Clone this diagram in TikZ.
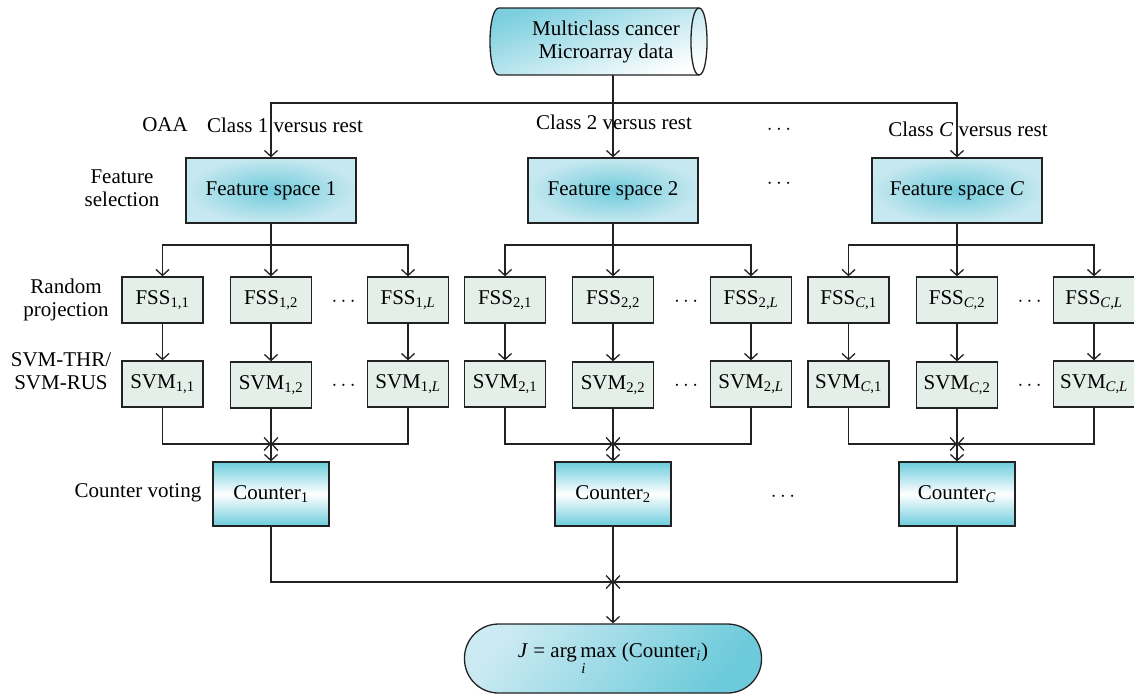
\documentclass[tikz,border=0pt]{standalone}
\usepackage{fontspec}
\setmainfont{Liberation Serif}
\usetikzlibrary{arrows.meta}
\definecolor{linec}{HTML}{222222}
\definecolor{fsin}{HTML}{70CBDB}
\definecolor{fsout}{HTML}{C6E8F0}
\definecolor{ctc}{HTML}{6CCCDC}
\definecolor{ssfill}{HTML}{E3EFE8}
\definecolor{tlight}{HTML}{CBEAF2}
\definecolor{tdark}{HTML}{6CCADA}
\definecolor{cyl}{HTML}{7DCFDF}
\begin{document}
\begin{tikzpicture}[x=1pt,y=-1pt,
  every node/.style={font=\fontsize{21}{23}\selectfont, text=black},
  conn/.style={draw=linec, line width=1.3pt},
  arr/.style={conn, -{Straight Barb[length=6pt,width=13pt]}},
  fsbox/.style={draw=linec, line width=1.3pt, minimum width=170pt, minimum height=65pt, inner color=fsin, outer color=fsout},
  ssbox/.style={draw=linec, line width=1.3pt, fill=ssfill, minimum width=81pt, minimum height=46pt, inner sep=0pt},
  ctbox/.style={draw=linec, line width=1.3pt, minimum width=116pt, minimum height=64pt, top color=ctc, bottom color=ctc, middle color=white},
  lbl/.style={align=center, inner sep=0pt},
  dotsl/.style={inner sep=0pt}
]
\useasboundingbox (0,0) rectangle (1134,694);
% cylinder
\path[shade, top color=cyl, bottom color=white, shading angle=20, draw=linec, line width=1.3pt]
  (499,8) -- (699,8) .. controls (709.7,8) and (709.7,75) .. (699,75) -- (499,75)
  .. controls (487,75) and (487,8) .. (499,8) -- cycle;
\draw[conn] (699,8) .. controls (688.3,8) and (688.3,75) .. (699,75);
\node[lbl, minimum height=67pt] (data) at (606,41.5) {Multiclass cancer\\Microarray data};

% feature spaces
\node[fsbox] (fs1) at (271,190.5) {Feature space 1};
\node[fsbox] (fs2) at (613,190.5) {Feature space 2};
\node[fsbox] (fsC) at (957,190.5) {Feature space \textit{C}};

\coordinate (top) at (613,103);
\draw[arr] (data.south -| fs2.north) -- (fs2.north);
\draw[arr] (top) -| (fs1.north);
\draw[arr] (top) -| (fsC.north);

% labels
\node[lbl] (oaa) at (165,125) {OAA};
\node[lbl] (c1) at (285,125) {Class 1 versus rest};
\node[lbl] (c2) at (614,122) {Class 2 versus rest};
\node[lbl] (cC) at (968,129) {Class \textit{C} versus rest};
\node[dotsl] (d1) at (779,130) {$\cdots$};
\node[dotsl] (d2) at (779,184) {$\cdots$};
\node[lbl] (lfs) at (122,188) {Feature\\selection};
\node[lbl] (lrp) at (66,300) {Random\\projection};
\node[lbl] (lsvm) at (61,371) {SVM-THR/\\SVM-RUS};
\node[lbl] (lcv) at (138,493) {Counter voting};

% groups
\foreach \g/\gs/\a/\b/\c in {1/1/162.5/271/408, 2/2/505/613/751, C/{\textit{C}}/848.5/957/1094}{
  \node[ssbox] (f\g a) at (\a,300) {FSS\textsubscript{\gs,1}};
  \node[ssbox] (f\g b) at (\b,300) {FSS\textsubscript{\gs,2}};
  \node[ssbox] (f\g c) at (\c,300) {FSS\textsubscript{\gs,\textit{L}}};
  \node[ssbox] (s\g a) at (\a,384) {SVM\textsubscript{\gs,1}};
  \node[ssbox] (s\g b) at (\b,385) {SVM\textsubscript{\gs,2}};
  \node[ssbox] (s\g c) at (\c,384) {SVM\textsubscript{\gs,\textit{L}}};
  \node[dotsl] (fd\g) at ({(\b+\c)/2+(\c-\b)*0.03},302) {$\cdots$};
  \node[dotsl] (sd\g) at ({(\b+\c)/2+(\c-\b)*0.03},386) {$\cdots$};
  \node[ctbox] (ct\g) at (\b,494) {Counter\textsubscript{\gs}};
  \coordinate (br\g) at (\b,245);
  \coordinate (mg\g) at (\b,444);
  \draw[arr] (fs\g.south) -- (f\g b.north);
  \draw[arr] (br\g) -| (f\g a.north);
  \draw[arr] (br\g) -| (f\g c.north);
  \draw[arr] (f\g a) -- (s\g a);
  \draw[arr] (f\g b) -- (s\g b);
  \draw[arr] (f\g c) -- (s\g c);
  \draw[arr] (s\g a.south) |- (mg\g);
  \draw[arr] (s\g c.south) |- (mg\g);
  \draw[arr] (s\g b.south) -- (ct\g.north);
}
\node[dotsl] (cd) at (783,497) {$\cdots$};

% result
\node[draw=linec, line width=1.3pt, rounded corners=34pt, minimum width=297pt, minimum height=69pt,
  top color=tlight, bottom color=tdark, shading angle=50] (res) at (613,658.5)
  {\textit{J} = $\mathop{\hbox{arg\,max}}\limits_{\hbox{\fontsize{15}{15}\selectfont\itshape i}}$ (Counter\textsubscript{\textit{i}})};
\coordinate (bm) at (613,582);
\draw[arr] (ct1.south) |- (bm);
\draw[arr] (ctC.south) |- (bm);
\draw[arr] (ct2.south) -- (res.north);
\end{tikzpicture}
\end{document}
